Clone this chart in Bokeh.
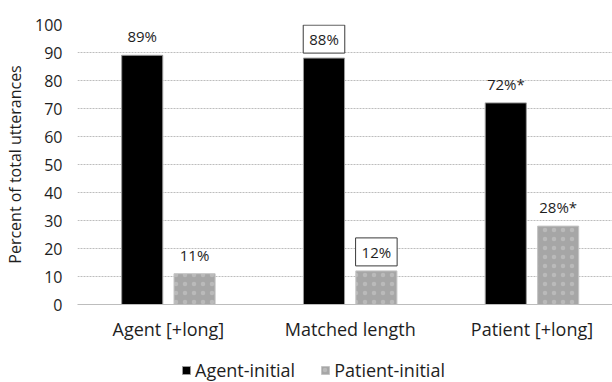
from bokeh.plotting import figure
from bokeh.layouts import column
from bokeh.models import (Range1d, FixedTicker, Label, Legend, LegendItem,
                          ColumnDataSource)
from bokeh.embed import file_html
from bokeh.resources import INLINE

# Share of utterances by sentence-initial role, per condition
categories = ["Agent [+long]", "Matched length", "Patient [+long]"]
series_names = ["Agent-initial", "Patient-initial"]
agent_initial = [89, 88, 72]
patient_initial = [11, 12, 28]
agent_marks = ["", "", "*"]
patient_marks = ["", "", "*"]
boxed = [False, True, False]
y_ticks = list(range(0, 101, 10))

FONT = "Open Sans"
TEXT = "#1e1e1e"
AGENT_STYLE = dict(fill_color="black", line_color="#9a9a9a", line_width=1)
PATIENT_STYLE = dict(fill_color="#a6a6a6", line_color="#c4c4c4", line_width=1,
                     hatch_pattern=".", hatch_color="white", hatch_alpha=0.22,
                     hatch_scale=9)

centers = [i + 0.5 for i in range(len(categories))]
offset = 0.144
bar_w = 0.226

p = figure(width=612, height=344, output_backend="svg", toolbar_location=None,
           x_range=Range1d(0, 2.943), y_range=Range1d(0, 100),
           min_border_left=77, min_border_right=0, min_border_top=24,
           min_border_bottom=40)
p.outline_line_color = None
p.background_fill_color = "white"
p.border_fill_color = "white"

src_a = ColumnDataSource(dict(x=[c - offset for c in centers], top=agent_initial))
src_p = ColumnDataSource(dict(x=[c + offset for c in centers], top=patient_initial))

p.vbar(x="x", top="top", width=bar_w, source=src_a, **AGENT_STYLE)
p.vbar(x="x", top="top", width=bar_w, source=src_p, **PATIENT_STYLE)

# value labels above each bar; the middle group is framed
for i, c in enumerate(centers):
    pairs = ((c - offset, agent_initial[i], agent_marks[i]),
             (c + offset, patient_initial[i], patient_marks[i]))
    for x, v, mark in pairs:
        extra = {}
        if boxed[i]:
            extra = dict(border_line_color="#3a3a3a", border_line_width=1,
                         background_fill_color="white",
                         padding=dict(x=6, y=4))
        p.add_layout(Label(x=x, y=v, y_offset=19, text=f"{v}%{mark}",
                           text_align="center", text_baseline="middle",
                           text_font=FONT, text_font_size="15px",
                           text_color=TEXT, **extra))

# y axis
p.yaxis.ticker = FixedTicker(ticks=y_ticks)
p.yaxis.axis_label = "Percent of total utterances"
p.yaxis.axis_label_text_font = FONT
p.yaxis.axis_label_text_font_size = "16px"
p.yaxis.axis_label_text_font_style = "normal"
p.yaxis.axis_label_text_color = TEXT
p.yaxis.axis_label_standoff = 6
p.yaxis.major_label_text_font = FONT
p.yaxis.major_label_text_font_size = "16px"
p.yaxis.major_label_text_color = TEXT
p.yaxis.major_label_standoff = 15
p.yaxis.axis_line_color = None
p.yaxis.major_tick_line_color = None
p.yaxis.major_tick_out = 0
p.yaxis.minor_tick_line_color = None
p.yaxis.minor_tick_out = 0

# x axis
p.xaxis.ticker = FixedTicker(ticks=centers)
p.xaxis.major_label_overrides = {c: name for c, name in zip(centers, categories)}
p.xaxis.major_label_text_font = FONT
p.xaxis.major_label_text_font_size = "18px"
p.xaxis.major_label_text_color = TEXT
p.xaxis.major_label_standoff = 12
p.xaxis.axis_line_color = "#bdbdbd"
p.xaxis.major_tick_line_color = None
p.xaxis.major_tick_out = 0
p.xaxis.minor_tick_line_color = None
p.xaxis.minor_tick_out = 0

p.xgrid.grid_line_color = None
p.ygrid.ticker = FixedTicker(ticks=y_ticks)
p.ygrid.grid_line_color = "#bdbdbd"
p.ygrid.grid_line_dash = "2 1"

# legend strip underneath the chart (hidden copies of the bar series)
leg = figure(width=612, height=38, output_backend="svg", toolbar_location=None,
             x_axis_location=None, y_axis_location=None,
             min_border=0, x_range=Range1d(0, 1), y_range=Range1d(0, 1))
leg.outline_line_color = None
leg.xgrid.grid_line_color = None
leg.ygrid.grid_line_color = None
la = leg.vbar(x="x", top="top", width=bar_w, source=src_a, visible=False, **AGENT_STYLE)
lp = leg.vbar(x="x", top="top", width=bar_w, source=src_p, visible=False, **PATIENT_STYLE)

legend = Legend(items=[LegendItem(label=series_names[0], renderers=[la]),
                       LegendItem(label=series_names[1], renderers=[lp])],
                orientation="horizontal", location=(104, 0),
                glyph_width=10, glyph_height=10, label_standoff=4, spacing=25,
                padding=0, margin=0, border_line_color=None,
                background_fill_alpha=0, inactive_fill_alpha=0,
                label_text_font=FONT, label_text_font_size="18px",
                label_text_color=TEXT)
leg.add_layout(legend)

layout = column(p, leg, spacing=0)
open("out.html", "w").write(file_html(layout, INLINE))
